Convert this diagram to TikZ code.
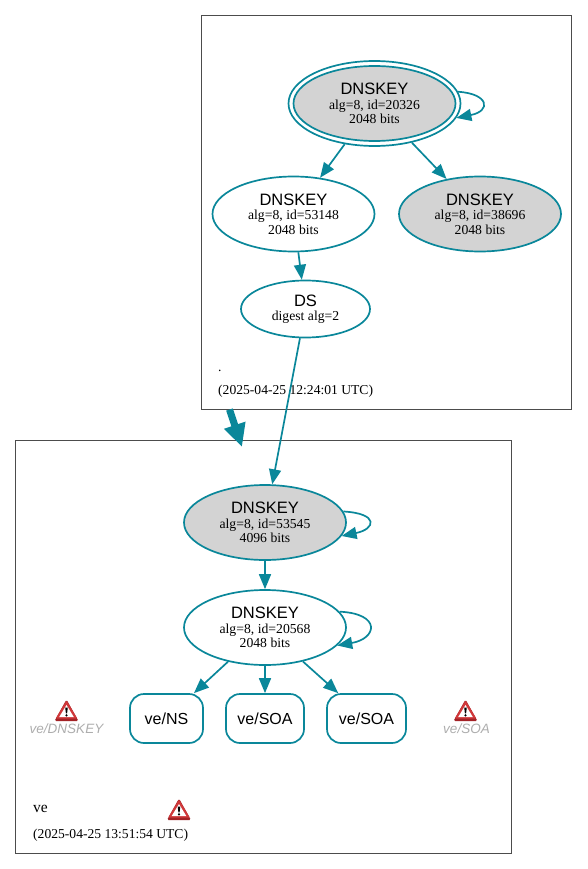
\documentclass[tikz,border=0pt]{standalone}
\usepackage{fontspec}
\setmainfont{Liberation Serif}
\setsansfont{Liberation Sans}
\usepackage{xcolor}
\usetikzlibrary{arrows.meta,positioning,shapes.geometric}
\definecolor{edgeteal}{HTML}{0A879A}
\definecolor{keygray}{HTML}{D3D3D3}
\definecolor{warnred}{HTML}{D0383A}
\definecolor{warndark}{HTML}{A32226}
\begin{document}
\begin{tikzpicture}[
    x=1pt, y=-1pt,
    >={Triangle[length=15pt,width=12pt]},
    dnode/.style={draw=edgeteal,ellipse,line width=1.7pt,inner sep=0pt,align=center,
                  font=\fontsize{13.7}{14.4}\selectfont,minimum width=162pt,minimum height=75pt},
    ksk/.style={dnode,fill=keygray},
    dsnode/.style={dnode,minimum width=129pt,minimum height=57pt},
    rrnode/.style={draw=edgeteal,rounded corners=14pt,line width=1.7pt,minimum height=49pt,
                   inner sep=0pt,font=\sffamily\fontsize{16}{18}\selectfont},
    cluster/.style={draw=black!70,line width=0.7pt,inner sep=0pt},
    stamp/.style={anchor=west,inner sep=0pt,font=\fontsize{13.6}{15}\selectfont},
    missing/.style={inner sep=0pt,text=black!32,font=\sffamily\itshape\fontsize{13.5}{15}\selectfont},
    link/.style={->,edgeteal,line width=1.7pt},
    warnicon/.pic={
      \fill[warndark,rounded corners=1.5pt] (0,-11.5) -- (12,10) -- (-12,10) -- cycle;
      \fill[warnred,rounded corners=1pt] (0,-10.5) -- (10.8,7.5) -- (-10.8,7.5) -- cycle;
      \fill[white] (0,-6) -- (7.4,6.2) -- (-7.4,6.2) -- cycle;
      \fill[black] (-1.3,-3.5) -- (1.3,-3.5) -- (0.6,2.4) -- (-0.6,2.4) -- cycle;
      \fill[black] (0,4.4) circle (1.2);
    },
  ]
  \useasboundingbox (0,0) rectangle (588,869);

  % --- zone boxes ---
  \node[cluster,minimum width=370pt,minimum height=394pt] (rootzone) at (386.5,212.5) {};
  \node[cluster,minimum width=496pt,minimum height=413pt] (vezone) at (263.75,646.5) {};

  % --- root zone ---
  \node[dnode,fill=none,minimum width=172pt,minimum height=85pt] (k20326out) at (374.5,103.5) {};
  \node[ksk] (k20326) at (374.5,103.5) {\raisebox{0.5pt}{\sffamily\fontsize{16.5}{16}\selectfont DNSKEY}\\alg=8, id=20326\\2048 bits};
  \node[dnode] (k53148) at (293.5,214) {\raisebox{0.5pt}{\sffamily\fontsize{16.5}{16}\selectfont DNSKEY}\\alg=8, id=53148\\2048 bits};
  \node[ksk] (k38696) at (480,214) {\raisebox{0.5pt}{\sffamily\fontsize{16.5}{16}\selectfont DNSKEY}\\alg=8, id=38696\\2048 bits};
  \node[dsnode] (ds) at (305.5,309) {{\sffamily\fontsize{16.5}{16}\selectfont DS}\\digest alg=2};
  \node[stamp] (rootname) at (218,371) {.};
  \node[stamp] (rootdate) at (218,391) {(2025-04-25 12:24:01 UTC)};

  % --- ve zone ---
  \node[ksk] (k53545) at (265,522.5) {\raisebox{0.5pt}{\sffamily\fontsize{16.5}{16}\selectfont DNSKEY}\\alg=8, id=53545\\4096 bits};
  \node[dnode] (k20568) at (265,627.5) {\raisebox{0.5pt}{\sffamily\fontsize{16.5}{16}\selectfont DNSKEY}\\alg=8, id=20568\\2048 bits};
  \node[rrnode,minimum width=73pt] (rrns) at (166.5,718.5) {ve/NS};
  \node[rrnode,minimum width=78pt] (rrsoa) at (265,718.5) {ve/SOA};
  \node[rrnode,minimum width=79pt] (rrsoatwo) at (366.5,718.5) {ve/SOA};
  \node[missing] (nodnskey) at (66.5,728.5) {ve/DNSKEY};
  \node[missing] (nosoa) at (466.5,728.5) {ve/SOA};
  \node[stamp,font=\fontsize{15.5}{16}\selectfont] (vename) at (33,809) {ve};
  \node[stamp] (vedate) at (33,835.5) {(2025-04-25 13:51:54 UTC)};

  % --- warnings ---
  \pic (warndnskey) at (66.5,711) {warnicon};
  \pic (warnsoa) at (465.5,711) {warnicon};
  \pic (warnzone) at (179,810) {warnicon};

  % --- edges ---
  \draw[link] (k20326out) -- (k53148);
  \draw[link] (k20326out) -- (k38696);
  \draw[link] (k53148) -- (ds);
  \draw[link] (ds) -- (k53545);
  \draw[link] (k53545) -- (k20568);
  \draw[link] (k20568) -- (rrns);
  \draw[link] (k20568) -- (rrsoa);
  \draw[link] (k20568) -- (rrsoatwo);

  % --- self loops ---
  \draw[link] (k20326out.8) .. controls +(31,2) and +(35,-7) .. (k20326out.-10);
  \draw[link] (k53545.8) .. controls +(36,2) and +(34,-7) .. (k53545.-10);
  \draw[link] (k20568.12) .. controls +(42,2) and +(40,-7) .. (k20568.-14);

  % --- delegation ---
  \coordinate (delegfrom) at (229.5,409.5);
  \coordinate (delegto) at (242,447);
  \draw[->,edgeteal,line width=7pt,>={Triangle[length=23pt,width=21pt]}] (delegfrom) -- (delegto);
\end{tikzpicture}
\end{document}
